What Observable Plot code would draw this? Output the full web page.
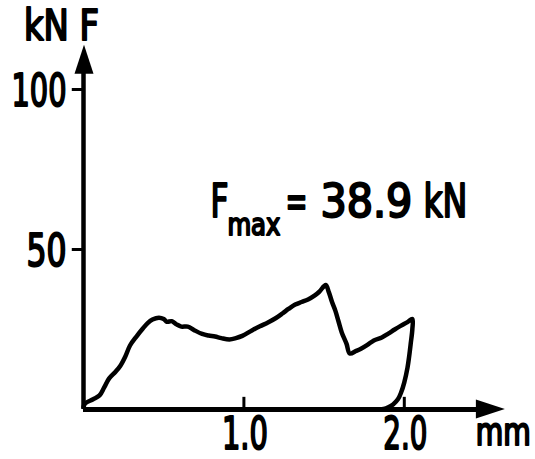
<!DOCTYPE html>
<html><head><meta charset="utf-8">
<script src="https://cdn.jsdelivr.net/npm/d3@7"></script>
<script src="https://cdn.jsdelivr.net/npm/@observablehq/plot@0.6"></script>
<style>html,body{margin:0;padding:0;background:#fff}</style>
</head><body><div id="chart"></div>
<script>
// Load–displacement record (mm, kN)
const displacement = [0.00,0.01,0.06,0.10,0.13,0.16,0.20,0.23,0.26,0.29,0.33,0.37,0.40,0.43,0.47,0.50,0.52,0.55,0.58,0.61,0.65,0.69,0.74,0.78,0.82,0.86,0.91,0.95,0.99,1.05,1.10,1.15,1.20,1.24,1.28,1.32,1.36,1.40,1.44,1.47,1.51,1.53,1.55,1.57,1.59,1.61,1.64,1.66,1.70,1.73,1.77,1.81,1.86,1.90,1.94,1.98,2.02,2.05,2.05,2.04,2.03,2.02,2.00,1.98,1.96,1.93,1.90,1.87,1.81];
const force        = [0.8,1.9,3.2,4.4,7.0,9.7,11.8,13.7,16.5,20.0,22.8,25.3,27.0,28.1,28.7,28.3,27.4,27.6,26.6,25.9,25.9,24.8,23.6,23.1,22.8,22.3,21.9,22.3,23.0,24.7,26.0,27.2,28.6,30.0,31.5,32.8,33.6,34.4,35.6,36.8,38.9,36.6,33.5,30.9,27.5,24.1,20.5,17.5,18.3,19.0,20.2,21.6,22.5,23.7,25.0,26.2,27.3,28.3,25.0,20.6,16.5,13.1,8.5,5.3,3.2,1.6,0.7,0.2,0.0];
const yTicks = [50, 100];
const yTickLabels = ["50", "100"];
const xTicks = [1.0, 2.0];
const xTickLabels = ["1.0", "2.0"];
const yAxisLabel = "kN F";
const xAxisLabel = "mm";
const fMax = 38.9;
const annotation = ["F", "max", "=", String(fMax), "kN"];

const xEnd = 2.63, yEnd = 113.8;   // axis arrow tips
const curve = displacement.map((d, i) => ({x: d, y: force[i]}));
const font = "DejaVu Sans Condensed, DejaVu Sans, sans-serif";

// target widths of the condensed drafting lettering
const widths = {"100": 55, "50": 40, "1.0": 46, "2.0": 44, "mm": 55, "kN F": 75,
  "F": 18, "max": 53, "=": 22, "38.9": 92, "kN": 44};

const ax = 1.3, ay = 64.7; // annotation anchor (data units)
const textStyle = {fontFamily: font, fontWeight: "normal", fill: "black", stroke: "black", strokeWidth: 2};
const T = (text, opts) => Plot.text([text], {text: d => d, ...textStyle, ...opts});

const plot = Plot.plot({
  width: 535, height: 459,
  marginLeft: 83, marginRight: 51, marginTop: 89, marginBottom: 50,
  x: {domain: [0, 2.5], axis: null},
  y: {domain: [0, 100], axis: null},
  style: {background: "white", overflow: "visible"},
  marks: [
    Plot.ruleY([0], {x1: 0, x2: xEnd - 0.15, stroke: "black", strokeWidth: 5}),
    Plot.ruleX([0], {y1: 0, y2: yEnd - 7, stroke: "black", strokeWidth: 4.5}),
    Plot.ruleY(yTicks, {x1: -0.07, x2: 0, stroke: "black", strokeWidth: 3}),
    Plot.ruleX(xTicks, {y1: 0, y2: 3.8, stroke: "black", strokeWidth: 3}),
    Plot.line(curve, {x: "x", y: "y", stroke: "black", strokeWidth: 4.5, strokeLinejoin: "round", strokeLinecap: "round", curve: "catmull-rom"}),
    Plot.text(yTicks, {x: 0, y: d => d, text: (d, i) => yTickLabels[i], textAnchor: "end", dx: -17, dy: 2, fontSize: 45, ...textStyle}),
    Plot.text(xTicks, {x: d => d, y: 0, text: (d, i) => xTickLabels[i], dx: 1, dy: 25, fontSize: 45, ...textStyle}),
    T(xAxisLabel, {x: xEnd, y: 0, textAnchor: "middle", dx: -2, dy: 24, fontSize: 37}),
    T(yAxisLabel, {x: 0, y: yEnd, dx: -22, dy: -19, fontSize: 43}),
    // F_max = 38.9 kN
    T(annotation[0], {x: ax, y: ay, textAnchor: "start", dx: -81.6, fontSize: 46}),
    T(annotation[1], {x: ax, y: ay, textAnchor: "start", dx: -64.6, dy: 23, fontSize: 31}),
    T(annotation[2], {x: ax, y: ay, textAnchor: "start", dx: -6.6, fontSize: 46}),
    T(annotation[3], {x: ax, y: ay, textAnchor: "start", dx: 28.4, fontSize: 46}),
    T(annotation[4], {x: ax, y: ay, textAnchor: "start", dx: 131.4, fontSize: 46})
  ]
});
document.getElementById("chart").appendChild(plot);

// narrow the lettering to the condensed drafting style of the original
d3.select(plot).selectAll("text").each(function() {
  const target = widths[this.textContent];
  if (!target) return;
  const w = this.getComputedTextLength();
  if (!w) return;
  const s = target / w;
  let t = this.getAttribute("transform") || "";
  const x = this.getAttribute("x");
  if (x != null && isFinite(+x) && +x !== 0) {
    t += ` translate(${+x},0)`;
    this.removeAttribute("x");
  }
  this.setAttribute("transform", t + ` scale(${s},1)`);
});

// filled arrowheads at the axis tips, positioned through Plot's scales
const X = plot.scale("x"), Y = plot.scale("y");
const x0 = X.apply(0), y0 = Y.apply(0), xt = X.apply(xEnd), yt = Y.apply(yEnd);
const svg = d3.select(plot);
svg.append("path").attr("d", `M${x0 + 1},${yt} L${x0 - 8.5},${yt + 29} L${x0 + 10.5},${yt + 29} Z`).attr("fill", "black");
svg.append("path").attr("d", `M${xt},${y0} L${xt - 29},${y0 - 9.5} L${xt - 29},${y0 + 9.5} Z`).attr("fill", "black");
</script>
</body></html>
